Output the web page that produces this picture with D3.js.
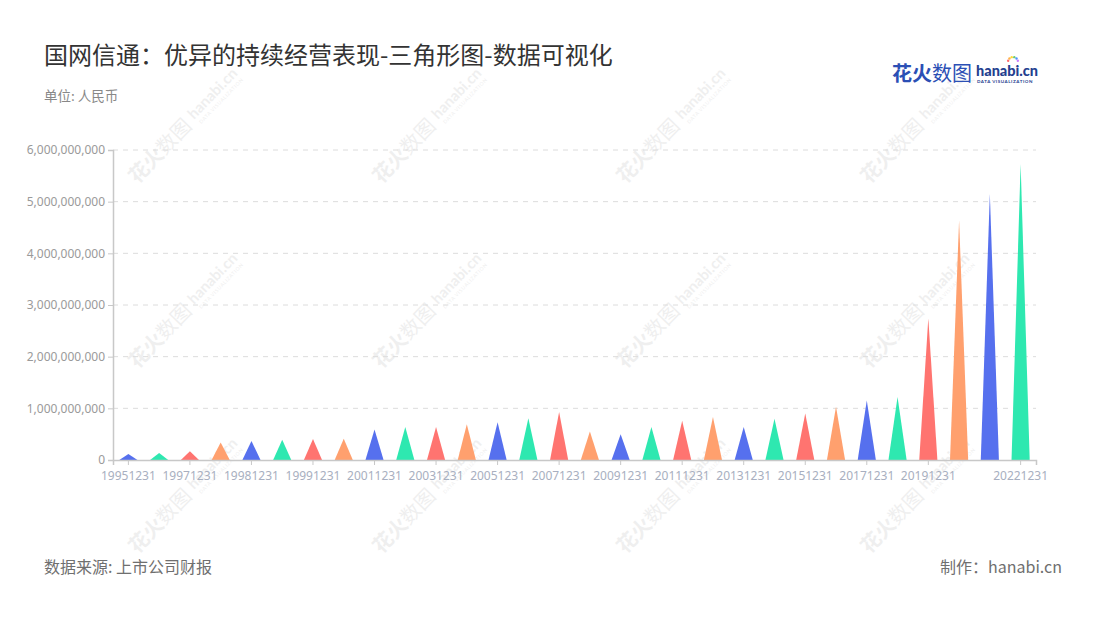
<!DOCTYPE html>
<html>
<head>
<meta charset="utf-8">
<script src="https://cdn.jsdelivr.net/npm/d3@7/dist/d3.min.js"></script>
<style>
  html, body { margin: 0; padding: 0; background: #fff; }
  svg { display: block; font-family: "Noto Sans CJK SC", "Noto Sans", sans-serif; }
</style>
</head>
<body>
<svg id="chart" width="1100" height="620"></svg>
<script>
// ---- data ----
const categories = [
  "19951231","19961231","19971231","19980630","19981231","19990630","19991231",
  "20001231","20011231","20021231","20031231","20041231","20051231","20061231",
  "20071231","20081231","20091231","20101231","20111231","20121231","20131231",
  "20141231","20151231","20161231","20171231","20181231","20191231","20201231",
  "20211231","20221231"
];
const values = [
  115000000, 135000000, 170000000, 340000000, 370000000, 390000000, 405000000,
  410000000, 590000000, 640000000, 640000000, 690000000, 730000000, 810000000,
  930000000, 550000000, 500000000, 640000000, 760000000, 830000000, 640000000,
  800000000, 900000000, 1030000000, 1150000000, 1220000000, 2740000000, 4640000000,
  5150000000, 5730000000
];
const xTickLabels = [
  "19951231","19971231","19981231","19991231","20011231","20031231","20051231",
  "20071231","20091231","20111231","20131231","20151231","20171231","20191231",
  "20221231"
];
const yTickValues = [0, 1000000000, 2000000000, 3000000000, 4000000000, 5000000000, 6000000000];
const palette = ["#5670ee", "#2ee8b0", "#ff7470", "#ffa06e"];

const titleText = "国网信通：优异的持续经营表现-三角形图-数据可视化";
const unitText = "单位: 人民币";
const sourceText = "数据来源: 上市公司财报";
const creditText = "制作：hanabi.cn";

// ---- layout ----
const svg = d3.select("#chart");
const m = { left: 113, right: 1036, top: 150, bottom: 460 };

const x = d3.scaleBand().domain(categories).range([m.left, m.right]).paddingInner(0).paddingOuter(0);
const y = d3.scaleLinear().domain([0, 6000000000]).range([m.bottom, m.top]);

// watermark (behind everything)
const wm = svg.append("g").attr("class", "watermark");
const wmXs = [185, 429, 673, 917];
const wmYs = [125, 310, 495];
wmYs.forEach(cy => wmXs.forEach(cx => {
  const g = wm.append("g").attr("transform", `translate(${cx},${cy}) rotate(-46)`).attr("opacity", 0.09);
  g.append("text").attr("x", -76).attr("y", 7).attr("font-size", 20).attr("font-weight", 700)
    .attr("fill", "#555").text("花火");
  g.append("text").attr("x", -36).attr("y", 7).attr("font-size", 20)
    .attr("fill", "#555").text("数图");
  g.append("text").attr("x", 10).attr("y", 3).attr("font-size", 15).attr("font-weight", 700)
    .attr("font-family", "Lato, sans-serif").attr("fill", "#555").text("hanabi.cn");
  g.append("text").attr("x", 12).attr("y", 11).attr("font-size", 5)
    .attr("font-family", "Lato, sans-serif").attr("fill", "#555").attr("letter-spacing", 0.6).text("DATA VISUALIZATION");
}));

// grid lines
svg.append("g").selectAll("line").data(yTickValues.filter(v => v > 0)).join("line")
  .attr("x1", m.left).attr("x2", m.right)
  .attr("y1", d => y(d)).attr("y2", d => y(d))
  .attr("stroke", "#dcdcdc").attr("stroke-dasharray", "5,5").attr("stroke-width", 1);

// y axis
const yAxis = d3.axisLeft(y).tickValues(yTickValues).tickSize(5).tickPadding(3)
  .tickFormat(d => d3.format(",")(d));
const yg = svg.append("g").attr("transform", `translate(${m.left},0)`).call(yAxis);
yg.select(".domain").attr("stroke", "#c8c8c8").attr("stroke-width", 1.5);
yg.selectAll(".tick line").attr("stroke", "#c8c8c8");
yg.selectAll(".tick text").attr("fill", "#9a9a9a").attr("font-size", 12)
  .attr("font-family", "'Noto Sans', sans-serif");

// triangles
const triW = x.bandwidth() * 0.59;
svg.append("g").selectAll("path").data(categories).join("path")
  .attr("d", (c, i) => {
    const cx = x(c) + x.bandwidth() / 2;
    return `M${cx - triW / 2},${y(0)} L${cx},${y(values[i])} L${cx + triW / 2},${y(0)} Z`;
  })
  .attr("fill", (c, i) => palette[i % palette.length]);

// x axis
const xAxis = d3.axisBottom(x).tickValues(xTickLabels).tickSize(5).tickPadding(6);
const xg = svg.append("g").attr("transform", `translate(0,${m.bottom})`).call(xAxis);
xg.select(".domain").attr("stroke", "#c8c8c8").attr("stroke-width", 1.5);
xg.selectAll(".tick line").attr("stroke", "#c8c8c8");
xg.selectAll(".tick text").attr("fill", "#a8afc0").attr("font-size", 12)
  .attr("font-family", "'Noto Sans', sans-serif");

// titles
svg.append("text").attr("x", 44).attr("y", 64).attr("font-size", 24).attr("fill", "#333")
  .text(titleText);
svg.append("text").attr("x", 44).attr("y", 101).attr("font-size", 13.5).attr("fill", "#888")
  .text(unitText);

// logo
const logo = svg.append("g");
logo.append("text").attr("x", 892).attr("y", 81).attr("font-size", 20).attr("font-weight", 700)
  .attr("fill", "#2b4fb5").text("花火");
logo.append("text").attr("x", 932).attr("y", 81).attr("font-size", 20)
  .attr("fill", "#2b4fb5").text("数图");
logo.append("text").attr("x", 976).attr("y", 76).attr("font-size", 14.5).attr("font-weight", 900)
  .attr("font-family", "Lato, sans-serif").attr("fill", "#24408f").text("hanabi.cn");
logo.append("text").attr("x", 977).attr("y", 82.5).attr("font-size", 4.5).attr("font-weight", 700)
  .attr("font-family", "Lato, sans-serif").attr("letter-spacing", 0.55).attr("fill", "#24408f").text("DATA VISUALIZATION");
const dotColors = ["#ff6b6b", "#ffb347", "#ffd93d", "#6bcb77", "#4d96ff", "#c77dff"];
dotColors.forEach((c, i) => {
  const a = -Math.PI + (i + 0.5) * Math.PI / dotColors.length;
  logo.append("circle").attr("cx", 1013 + Math.cos(a) * 5).attr("cy", 62 + Math.sin(a) * 5)
    .attr("r", 1.2).attr("fill", c);
});

// footer
svg.append("text").attr("x", 44).attr("y", 573).attr("font-size", 16).attr("fill", "#6f6f6f")
  .text(sourceText);
svg.append("text").attr("x", 1062).attr("y", 573).attr("font-size", 16).attr("fill", "#6f6f6f")
  .attr("text-anchor", "end").text(creditText);
</script>
</body>
</html>
